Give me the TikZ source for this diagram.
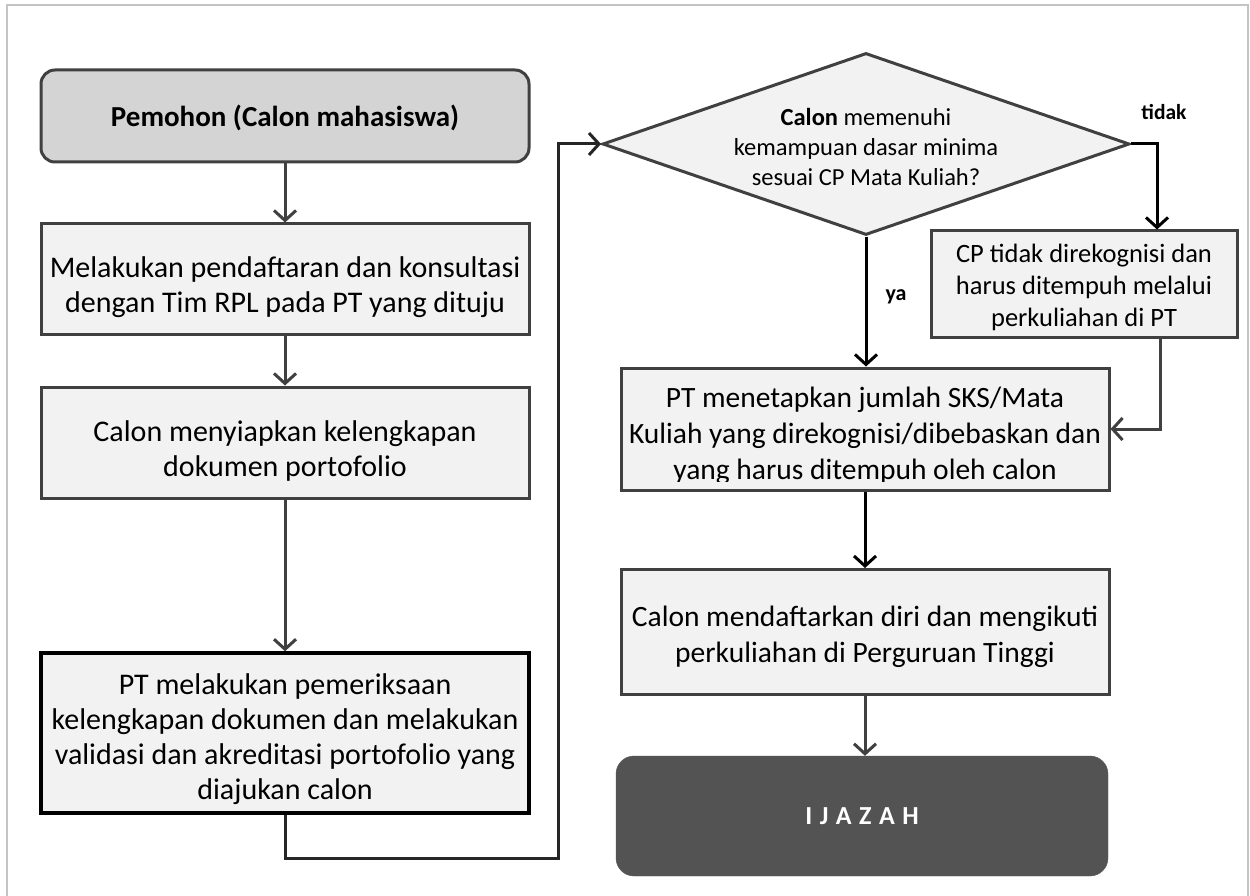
\documentclass[tikz,border=0pt]{standalone}
\usepackage{fontspec}
\setmainfont{Carlito}
\usetikzlibrary{shapes.geometric,arrows.meta}
\definecolor{dgray}{HTML}{404040}
\definecolor{boxfill}{HTML}{F2F2F2}
\definecolor{startfill}{HTML}{D4D4D4}
\definecolor{endfill}{HTML}{535353}
\definecolor{framec}{HTML}{C4C4C4}
\begin{document}
\begin{tikzpicture}[x=1pt,y=-1pt,
  box/.style={draw=dgray, line width=3pt, fill=boxfill, minimum width=488pt, inner sep=0pt},
  txt/.style={inner sep=0pt, align=center, font=\fontsize{30}{35}\selectfont},
  arr/.style={draw=dgray, line width=3pt, -{Straight Barb[length=10pt,width=22pt]}},
  barr/.style={draw=black, line width=3pt, -{Straight Barb[length=10pt,width=22pt]}},
  lbl/.style={inner sep=0pt}]
\path[use as bounding box] (0,0) rectangle (1250,896);
\draw[framec, line width=1.5pt] (7,900) -- (7,5) -- (1248,5) -- (1248,900);

% left column
\node[box, fill=startfill, rounded corners=14pt, minimum height=92pt] (start) at (285,116) {};
\node[txt, font=\bfseries\fontsize{29}{34}\selectfont] (start-t) at ([yshift=-2pt]start.center) {Pemohon (Calon mahasiswa)};

\node[box, minimum height=110pt] (reg) at (285,279) {};
\node[txt] (reg-t) at ([yshift=-8pt]reg.center) {Melakukan pendaftaran dan konsultasi\\dengan Tim RPL pada PT yang dituju};

\node[box, minimum height=111pt] (prep) at (285,442.5) {};
\node[txt] (prep-t) at ([yshift=-8pt]prep.center) {Calon menyiapkan kelengkapan\\dokumen portofolio};

\node[box, draw=black, line width=3.5pt, minimum height=160pt] (check) at (285,733) {};
\node[txt] (check-t) at ([yshift=-6pt]check.center) {PT melakukan pemeriksaan\\kelengkapan dokumen dan melakukan\\validasi dan akreditasi portofolio yang\\diajukan calon};

% decision
\node[diamond, draw=dgray, line width=3pt, fill=boxfill, minimum width=527pt, minimum height=182pt, inner sep=0pt] (dec) at (866,144) {};
\node[txt, font=\fontsize{24.5}{30}\selectfont] (dec-t) at ([yshift=-3pt]dec.center) {\textbf{Calon} memenuhi\\kemampuan dasar minima\\sesuai CP Mata Kuliah?};

\node[box, minimum width=306pt, minimum height=106pt] (cpno) at (1084,284) {};
\node[txt, font=\fontsize{26.5}{32}\selectfont] (cpno-t) at ([yshift=-3pt]cpno.center) {CP tidak direkognisi dan\\harus ditempuh melalui\\perkuliahan di PT};

\node[box, minimum height=122pt] (pt) at (865,429) {};
\begin{scope}
\clip (622,370) rectangle (1108,481);
\node[txt, font=\fontsize{29.5}{36}\selectfont] (pt-t) at ([yshift=-7pt]pt.center) {PT menetapkan jumlah SKS/Mata\\Kuliah yang direkognisi/dibebaskan dan\\yang harus ditempuh oleh calon};
\end{scope}

\node[box, minimum height=125pt] (enrol) at (865,632) {};
\node[txt, font=\fontsize{29.5}{36}\selectfont] (enrol-t) at ([yshift=-5pt]enrol.center) {Calon mendaftarkan diri dan mengikuti\\perkuliahan di Perguruan Tinggi};

\node[draw=endfill, fill=endfill, rounded corners=18pt, minimum width=492pt, minimum height=120pt, inner sep=0pt, text=white, font=\bfseries\fontsize{26}{30}\selectfont] (ijazah) at (862,816) {I\hspace{7.5pt}J\hspace{7.5pt}A\hspace{7.5pt}Z\hspace{7.5pt}A\hspace{7.5pt}H};

% labels
\node[lbl, font=\bfseries\fontsize{21.5}{24}\selectfont] (ltidak) at (1164,112) {tidak};
\node[lbl, font=\bfseries\fontsize{22}{24}\selectfont] (lya) at (896,297) {ya};

% helper coordinates
\coordinate (c2) at (558,858);
\coordinate (t1) at (1157,144);
\coordinate (t2) at (1160,0);

% connectors
\draw[arr] (start.south) -- (reg.north);
\draw[arr] (reg.south) -- (prep.north);
\draw[arr] (prep.south) -- (check.north);
\draw[barr, draw=black!85] (check.south) |- (c2) |- (dec.west);
\draw[barr] (dec.east) -- (t1) -- (t1 |- cpno.north);
\draw[barr] (dec.south) -- (dec.south |- pt.north);
\draw[arr] (cpno.south -| t2) |- (pt.east);
\draw[barr] (pt.south) -- (enrol.north);
\draw[arr] (enrol.south) -- (enrol.south |- ijazah.north);
\end{tikzpicture}
\end{document}
